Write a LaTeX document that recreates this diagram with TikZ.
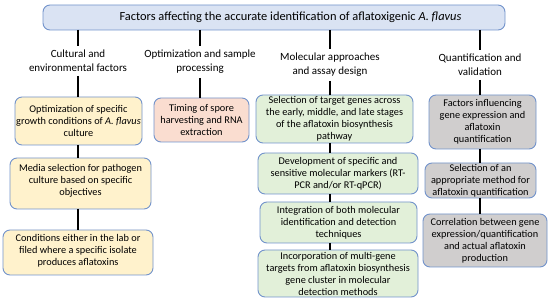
\documentclass[tikz,border=0pt]{standalone}
\usepackage{fontspec}
\setmainfont{Carlito}
\begin{document}
\begin{tikzpicture}[x=1pt,y=-1pt,
  every node/.style={inner sep=0pt, outer sep=0pt},
  box/.style={draw=boxborder, line width=0.9pt, rounded corners=7pt, align=center,
    font=\fontsize{10.3}{12}\selectfont},
  ybox/.style={box, fill=boxyellow},
  pbox/.style={box, fill=boxpink},
  gbox/.style={box, fill=boxgreen},
  qbox/.style={box, fill=boxgray},
  cat/.style={align=center, inner sep=4pt, font=\fontsize{11}{14}\selectfont},
  link/.style={line width=1.8pt, black}]
\definecolor{boxborder}{HTML}{7293CB}
\definecolor{boxtitle}{HTML}{DAE3F3}
\definecolor{boxyellow}{HTML}{FFF2CC}
\definecolor{boxpink}{HTML}{FADDD0}
\definecolor{boxgreen}{HTML}{E2F0D9}
\definecolor{boxgray}{HTML}{D0CECE}
\useasboundingbox (0,0) rectangle (550,302);
% title
\node[box, fill=boxtitle, minimum width=462pt, minimum height=25pt] (titlebox) at (274,17.5) {};
\node[font=\fontsize{12.4}{14}\selectfont] (title) at (290.5,17.5) {Factors affecting the accurate identification of aflatoxigenic \textit{A. flavus}};
% categories
\node[cat] (cat1) at (78,61) {Cultural and\\environmental factors};
\node[cat] (cat2) at (200,62) {Optimization and sample\\processing};
\node[cat] (cat3) at (330,65) {Molecular approaches\\and assay design};
\node[cat] (cat4) at (480,65) {Quantification and\\validation};
% column 1
\node[ybox, minimum width=127pt, minimum height=48pt] (a1) at (78.5,121) {Optimization of specific\\growth conditions of \textit{A. flavus}\\culture};
\node[ybox, minimum width=141pt, minimum height=51pt] (a2) at (80.5,183.5) {Media selection for pathogen\\culture based on specific\\objectives\rule[-8pt]{0pt}{8pt}};
\node[ybox, minimum width=150pt, minimum height=45pt] (a3) at (78,252.5) {Conditions either in the lab or\\filed where a specific isolate\\produces aflatoxins\rule[-6pt]{0pt}{6pt}};
% column 2
\node[pbox, minimum width=95pt, minimum height=44pt] (p1) at (201.5,120) {Timing of spore\\harvesting and RNA\\extraction};
% column 3
\node[gbox, minimum width=157pt, minimum height=48pt] (g1) at (334.5,119) {Selection of target genes across\\the early, middle, and late stages\\of the aflatoxin biosynthesis\\pathway};
\node[gbox, minimum width=160pt, minimum height=41pt] (g2) at (338,173.5) {Development of specific and\\sensitive molecular markers (RT-\\PCR and/or RT-qPCR)};
\node[gbox, minimum width=157pt, minimum height=41pt] (g3) at (338.5,222.5) {Integration of both molecular\\identification and detection\\techniques};
\node[gbox, minimum width=160pt, minimum height=47pt] (g4) at (338,273.5) {Incorporation of multi-gene\\targets from aflatoxin biosynthesis\\gene cluster in molecular\\detection methods};
% column 4
\node[qbox, minimum width=107pt, minimum height=54pt] (q1) at (482.5,122) {Factors influencing\\gene expression and\\aflatoxin\\quantification};
\node[qbox, minimum width=111pt, minimum height=35pt] (q2) at (480.5,180.5) {Selection of an\\appropriate method for\\aflatoxin quantification};
\node[qbox, minimum width=124pt, minimum height=53pt] (q3) at (485,240.5) {Correlation between gene\\expression/quantification\\and actual aflatoxin\\production};
% connectors
\foreach \c in {cat1,cat2,cat3,cat4} {
  \draw[link] (titlebox.south -| \c) -- (\c.north);
}
\draw[link] (cat1.south) -- (a1.north -| cat1);
\draw[link] (cat2.south) -- (p1.north -| cat2);
\draw[link] (cat3.south) -- (g1.north -| cat3);
\draw[link] (cat4.south) -- (q1.north -| cat4);
\draw[link] (a1.south -| cat1) -- (a2.north -| cat1);
\draw[link] (a2.south -| cat1) -- (a3.north -| cat1);
\draw[link] (g1.south -| cat3) -- (g2.north -| cat3);
\draw[link] (g2.south -| cat3) -- (g3.north -| cat3);
\draw[link] (g3.south -| cat3) -- (g4.north -| cat3);
\draw[link] (q1.south -| cat4) -- (q2.north -| cat4);
\draw[link] (q2.south -| cat4) -- (q3.north -| cat4);
\end{tikzpicture}
\end{document}
